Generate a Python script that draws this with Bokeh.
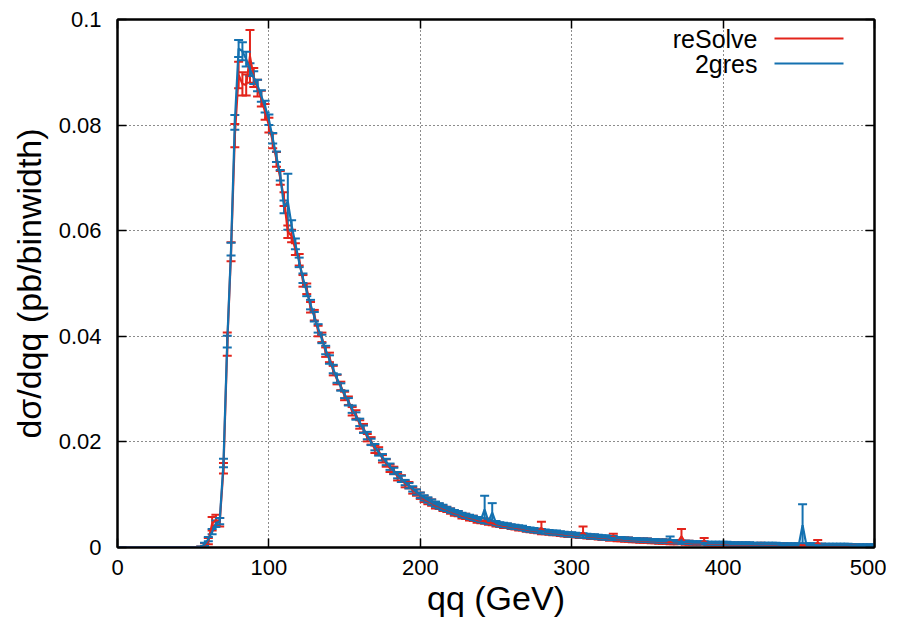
import numpy as np
from bokeh.plotting import figure
from bokeh.models import (ColumnDataSource, Whisker, TeeHead, FixedTicker, LinearAxis,
                          Range1d, Label, Arrow, NumeralTickFormatter)
from bokeh.embed import file_html
from bokeh.resources import INLINE

# ---- data -------------------------------------------------------------
bin_width = 2.5
n_bins = 200
x_ticks = [0, 100, 200, 300, 400, 500]
y_ticks = [0, 0.02, 0.04, 0.06, 0.08, 0.1]

resolve_y = [0.0] * 21 + [
    0.0000, 0.0004, 0.0012, 0.0045, 0.0052, 0.0048, 0.0150, 0.0385, 0.0560, 0.0780,
    0.0895, 0.0878, 0.0876, 0.0930, 0.0890, 0.0870, 0.0850, 0.0825, 0.0800, 0.0770,
    0.0735, 0.0700, 0.0660, 0.0598, 0.0590, 0.0565, 0.0545, 0.0505, 0.0490, 0.0455,
    0.0440, 0.0410, 0.0398, 0.0370, 0.0360, 0.0335, 0.0318, 0.0306, 0.0287, 0.0278,
    0.0258, 0.0252, 0.0233, 0.0226, 0.0208, 0.0202, 0.0186, 0.0183, 0.0168, 0.0160,
    0.0150, 0.0146, 0.0134, 0.0131, 0.0120, 0.0118, 0.0108, 0.0104, 0.0098, 0.0092,
    0.0088, 0.0085, 0.0080, 0.0078, 0.0074, 0.0072, 0.0069, 0.0065, 0.0064, 0.0060,
    0.0059, 0.0056, 0.0055, 0.0052, 0.0051, 0.0050, 0.0047, 0.0046, 0.0044, 0.0043,
    0.0041, 0.0041, 0.0039, 0.0038, 0.0036, 0.0036, 0.0034, 0.0033, 0.0032, 0.0031,
    0.0037, 0.0029, 0.0028, 0.0027, 0.0027, 0.0026, 0.0025, 0.0024, 0.0024, 0.0023,
    0.0022, 0.0029, 0.0021, 0.0020, 0.0020, 0.0019, 0.0018, 0.0018, 0.0017, 0.0021,
    0.0016, 0.0016, 0.0015, 0.0015, 0.0014, 0.0014, 0.0013, 0.0013, 0.0013, 0.0012,
    0.0012, 0.0011, 0.0011, 0.0011, 0.0010, 0.0010, 0.0010, 0.0021, 0.0009, 0.0009,
    0.0008, 0.0008, 0.0008, 0.0013, 0.0007, 0.0007, 0.0007, 0.0007, 0.0007, 0.0007,
    0.0006, 0.0006, 0.0006, 0.0006, 0.0006, 0.0006, 0.0005, 0.0005, 0.0006, 0.0005,
    0.0005, 0.0005, 0.0005, 0.0004, 0.0005, 0.0004, 0.0004, 0.0004, 0.0004, 0.0004,
    0.0004, 0.0004, 0.0004, 0.0009, 0.0004, 0.0003, 0.0003, 0.0003, 0.0003, 0.0003,
    0.0003, 0.0003, 0.0003, 0.0003, 0.0002, 0.0002, 0.0002, 0.0002, 0.0002,
]
resolve_err = [0.0] * 21 + [
    0.0002, 0.0004, 0.0006, 0.0013, 0.0010, 0.0008, 0.0010, 0.0022, 0.0018, 0.0022,
    0.0025, 0.0022, 0.0020, 0.0050, 0.0018, 0.0016, 0.0015, 0.0015, 0.0014, 0.0014,
    0.0014, 0.0013, 0.0013, 0.0012, 0.0012, 0.0011, 0.0011, 0.0011, 0.0010, 0.0010,
    0.0010, 0.0010, 0.0009, 0.0009, 0.0009, 0.0009, 0.0009, 0.0008, 0.0008, 0.0008,
    0.0008, 0.0008, 0.0008, 0.0008, 0.0007, 0.0007, 0.0007, 0.0007, 0.0007, 0.0007,
    0.0007, 0.0007, 0.0007, 0.0006, 0.0006, 0.0006, 0.0006, 0.0006, 0.0006, 0.0006,
    0.0006, 0.0006, 0.0006, 0.0005, 0.0005, 0.0005, 0.0005, 0.0005, 0.0005, 0.0005,
    0.0005, 0.0005, 0.0005, 0.0005, 0.0005, 0.0005, 0.0004, 0.0004, 0.0004, 0.0004,
    0.0004, 0.0004, 0.0004, 0.0004, 0.0004, 0.0004, 0.0004, 0.0004, 0.0004, 0.0004,
    0.0012, 0.0004, 0.0004, 0.0004, 0.0004, 0.0004, 0.0004, 0.0004, 0.0004, 0.0004,
    0.0004, 0.0011, 0.0004, 0.0004, 0.0004, 0.0004, 0.0004, 0.0004, 0.0004, 0.0005,
    0.0004, 0.0004, 0.0004, 0.0004, 0.0004, 0.0004, 0.0004, 0.0004, 0.0004, 0.0004,
    0.0004, 0.0004, 0.0004, 0.0004, 0.0004, 0.0004, 0.0004, 0.0014, 0.0004, 0.0004,
    0.0003, 0.0003, 0.0003, 0.0005, 0.0003, 0.0003, 0.0003, 0.0003, 0.0003, 0.0003,
    0.0003, 0.0003, 0.0003, 0.0003, 0.0003, 0.0003, 0.0003, 0.0003, 0.0003, 0.0003,
    0.0003, 0.0003, 0.0003, 0.0003, 0.0003, 0.0003, 0.0003, 0.0003, 0.0003, 0.0003,
    0.0003, 0.0003, 0.0003, 0.0005, 0.0003, 0.0003, 0.0003, 0.0003, 0.0003, 0.0003,
    0.0003, 0.0003, 0.0003, 0.0003, 0.0003, 0.0003, 0.0003, 0.0003, 0.0003,
]

gres_y = [0.0] * 21 + [
    0.0001, 0.0006, 0.0016, 0.0030, 0.0045, 0.0050, 0.0160, 0.0390, 0.0565, 0.0805,
    0.0945, 0.0940, 0.0925, 0.0905, 0.0890, 0.0875, 0.0855, 0.0835, 0.0810, 0.0775,
    0.0740, 0.0705, 0.0645, 0.0655, 0.0610, 0.0575, 0.0540, 0.0510, 0.0485, 0.0460,
    0.0437, 0.0415, 0.0395, 0.0374, 0.0356, 0.0338, 0.0320, 0.0304, 0.0290, 0.0276,
    0.0262, 0.0249, 0.0237, 0.0224, 0.0212, 0.0200, 0.0190, 0.0180, 0.0171, 0.0162,
    0.0153, 0.0145, 0.0137, 0.0130, 0.0123, 0.0117, 0.0111, 0.0105, 0.0099, 0.0094,
    0.0090, 0.0086, 0.0082, 0.0079, 0.0076, 0.0073, 0.0070, 0.0067, 0.0065, 0.0062,
    0.0060, 0.0058, 0.0056, 0.0054, 0.0052, 0.0072, 0.0049, 0.0066, 0.0046, 0.0044,
    0.0043, 0.0042, 0.0040, 0.0039, 0.0038, 0.0037, 0.0035, 0.0034, 0.0033, 0.0032,
    0.0031, 0.0030, 0.0029, 0.0028, 0.0028, 0.0027, 0.0026, 0.0025, 0.0025, 0.0024,
    0.0023, 0.0023, 0.0022, 0.0021, 0.0021, 0.0020, 0.0019, 0.0019, 0.0018, 0.0018,
    0.0017, 0.0017, 0.0016, 0.0016, 0.0015, 0.0015, 0.0014, 0.0014, 0.0014, 0.0013,
    0.0013, 0.0012, 0.0012, 0.0012, 0.0016, 0.0011, 0.0011, 0.0010, 0.0010, 0.0010,
    0.0009, 0.0009, 0.0009, 0.0009, 0.0008, 0.0008, 0.0008, 0.0008, 0.0008, 0.0008,
    0.0007, 0.0007, 0.0007, 0.0007, 0.0007, 0.0007, 0.0006, 0.0006, 0.0006, 0.0006,
    0.0006, 0.0006, 0.0006, 0.0005, 0.0005, 0.0005, 0.0005, 0.0005, 0.0005, 0.0042,
    0.0005, 0.0005, 0.0005, 0.0004, 0.0004, 0.0004, 0.0004, 0.0004, 0.0004, 0.0004,
    0.0004, 0.0004, 0.0003, 0.0003, 0.0003, 0.0003, 0.0003, 0.0003, 0.0003,
]
gres_err = [0.0] * 21 + [
    0.0001, 0.0003, 0.0004, 0.0005, 0.0006, 0.0006, 0.0008, 0.0011, 0.0012, 0.0014,
    0.0016, 0.0017, 0.0014, 0.0012, 0.0012, 0.0011, 0.0011, 0.0011, 0.0010, 0.0010,
    0.0010, 0.0010, 0.0012, 0.0053, 0.0010, 0.0010, 0.0009, 0.0009, 0.0009, 0.0009,
    0.0009, 0.0008, 0.0008, 0.0008, 0.0008, 0.0008, 0.0008, 0.0007, 0.0007, 0.0007,
    0.0007, 0.0007, 0.0007, 0.0007, 0.0007, 0.0006, 0.0006, 0.0006, 0.0006, 0.0006,
    0.0006, 0.0006, 0.0006, 0.0006, 0.0005, 0.0005, 0.0005, 0.0005, 0.0005, 0.0005,
    0.0005, 0.0005, 0.0005, 0.0005, 0.0005, 0.0004, 0.0004, 0.0004, 0.0004, 0.0004,
    0.0004, 0.0004, 0.0004, 0.0004, 0.0004, 0.0026, 0.0004, 0.0018, 0.0004, 0.0004,
    0.0004, 0.0004, 0.0004, 0.0004, 0.0004, 0.0004, 0.0004, 0.0004, 0.0004, 0.0004,
    0.0004, 0.0004, 0.0004, 0.0004, 0.0004, 0.0004, 0.0004, 0.0004, 0.0004, 0.0004,
    0.0004, 0.0004, 0.0004, 0.0004, 0.0004, 0.0004, 0.0004, 0.0004, 0.0004, 0.0004,
    0.0003, 0.0003, 0.0003, 0.0003, 0.0003, 0.0003, 0.0003, 0.0003, 0.0003, 0.0003,
    0.0003, 0.0003, 0.0003, 0.0003, 0.0005, 0.0003, 0.0003, 0.0003, 0.0003, 0.0003,
    0.0003, 0.0003, 0.0003, 0.0003, 0.0003, 0.0003, 0.0003, 0.0003, 0.0003, 0.0003,
    0.0003, 0.0003, 0.0003, 0.0003, 0.0003, 0.0003, 0.0003, 0.0003, 0.0003, 0.0003,
    0.0003, 0.0003, 0.0003, 0.0003, 0.0003, 0.0003, 0.0003, 0.0003, 0.0003, 0.0040,
    0.0003, 0.0003, 0.0003, 0.0003, 0.0003, 0.0003, 0.0003, 0.0003, 0.0003, 0.0003,
    0.0003, 0.0003, 0.0003, 0.0003, 0.0003, 0.0003, 0.0003, 0.0003, 0.0003,
]

series_names = ["reSolve", "2gres"]
series_colors = ["#e3241b", "#1471b0"]

# ---- figure -----------------------------------------------------------
FONT = "Liberation Sans"
# each point is drawn at the upper edge of its 2.5 GeV bin
x_points = (np.arange(n_bins) + 1.0) * bin_width

p = figure(width=886, height=619, output_backend="svg", toolbar_location=None,
           x_range=Range1d(0, 500), y_range=Range1d(0, 0.1),
           min_border_left=117, min_border_right=12, min_border_top=19,
           min_border_bottom=71)
p.background_fill_color = "white"
p.border_fill_color = "white"
p.outline_line_color = "black"
p.outline_line_width = 2

for name, col, ys, es in [(series_names[0], series_colors[0], resolve_y, resolve_err),
                          (series_names[1], series_colors[1], gres_y, gres_err)]:
    ys = np.array(ys)
    es = np.array(es)
    src = ColumnDataSource(dict(x=x_points, y=ys, lo=ys - es, hi=ys + es))
    p.line("x", "y", source=src, line_color=col, line_width=2.2)
    w = Whisker(source=src, base="x", upper="hi", lower="lo", dimension="height",
                line_color=col, line_width=2,
                upper_head=TeeHead(size=9, line_color=col, line_width=2),
                lower_head=TeeHead(size=9, line_color=col, line_width=2))
    p.add_layout(w)

# axes
for ax in (p.xaxis[0], p.yaxis[0]):
    ax.major_tick_in = 9
    ax.major_tick_out = 0
    ax.minor_tick_line_color = None
    ax.axis_line_color = "black"
    ax.axis_line_width = 2
    ax.major_tick_line_width = 1.5
    ax.major_label_text_font = FONT
    ax.major_label_text_font_size = "22px"
    ax.major_label_text_color = "black"
    ax.axis_label_text_font = FONT
    ax.axis_label_text_font_size = "34px"
    ax.axis_label_text_font_style = "normal"
    ax.axis_label_text_color = "black"

p.xaxis.ticker = FixedTicker(ticks=x_ticks)
p.yaxis.ticker = FixedTicker(ticks=y_ticks)
p.yaxis.formatter = NumeralTickFormatter(format="0.[00]")
p.xaxis.axis_label = "qq (GeV)"
p.yaxis.axis_label = "dσ/dqq (pb/binwidth)"
p.xaxis.major_label_standoff = 12
p.yaxis.major_label_standoff = 16
p.xaxis.axis_label_standoff = 1
p.yaxis.axis_label_standoff = 8

# mirrored axes (ticks only, blank labels)
for loc, tk in (("right", y_ticks), ("above", x_ticks)):
    ax = LinearAxis(ticker=FixedTicker(ticks=tk), major_tick_in=9, major_tick_out=0,
                    minor_tick_line_color=None, axis_line_color="black",
                    axis_line_width=2, major_tick_line_width=1.5,
                    major_label_overrides={t: "" for t in tk}, major_label_standoff=0)
    p.add_layout(ax, loc)

# grid
for g in (p.xgrid[0], p.ygrid[0]):
    g.grid_line_color = "black"
    g.grid_line_dash = "1 3"
    g.grid_line_width = 1
    g.grid_line_alpha = 0.9
p.xgrid.ticker = FixedTicker(ticks=x_ticks)
p.ygrid.ticker = FixedTicker(ticks=y_ticks)

# legend (gnuplot style: text right-aligned, sample line at the right)
for k, (name, col) in enumerate(zip(series_names, series_colors)):
    yk = 509 - 25 * k
    p.add_layout(Label(x=640, y=yk, x_units="screen", y_units="screen", text=name,
                       text_align="right", text_baseline="middle",
                       text_font=FONT, text_font_size="25px", text_color="black"))
    p.add_layout(Arrow(x_start=657, y_start=yk, x_end=726, y_end=yk,
                       start_units="screen", end_units="screen", end=None,
                       line_color=col, line_width=2))

open("out.html", "w").write(file_html(p, INLINE))
